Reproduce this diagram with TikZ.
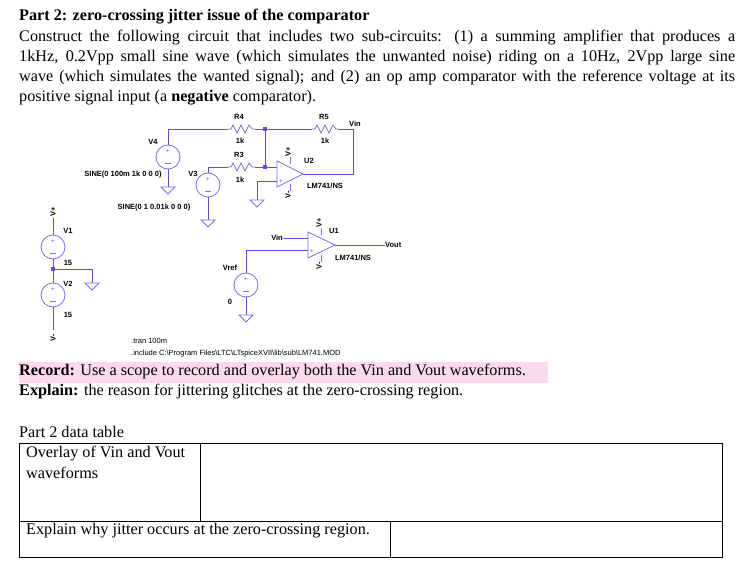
\documentclass[tikz,border=0pt]{standalone}
\usepackage{fontspec}
\setmainfont{Liberation Serif}
\newfontfamily\ckt{Liberation Sans}
\begin{document}
\begin{tikzpicture}[x=1pt,y=-1pt,
  wire/.style={draw=wirec,line width=0.9pt},
  comp/.style={draw=compc,line width=0.8pt},
  lbl/.style={font=\ckt\bfseries\fontsize{7.5}{8}\selectfont,inner sep=0pt},
  sgn/.style={font=\ckt\fontsize{7}{7}\selectfont,text=compc,inner sep=0pt},
  body/.style={font=\fontsize{16.2}{20}\selectfont,inner sep=0pt,anchor=west},
  dot/.style={fill=wirec,minimum size=3.5pt,inner sep=0pt,rectangle}]
\definecolor{wirec}{RGB}{110,70,225}
\definecolor{compc}{RGB}{120,110,230}
\definecolor{pinkh}{RGB}{252,218,236}
\useasboundingbox (0,0) rectangle (753,572);
\fill[white] (0,0) rectangle (753,572);
% text
\node[body] (t0) at (19,17) {\textbf{Part 2: zero-crossing jitter issue of the comparator}};
\node[body] (t1) at (19,38) {\makebox[716pt][s]{Construct the following circuit that includes two sub-circuits: (1) a summing amplifier that produces a}};
\node[body] (t2) at (19,58) {\makebox[716pt][s]{1kHz, 0.2Vpp small sine wave (which simulates the unwanted noise) riding on a 10Hz, 2Vpp large sine}};
\node[body] (t3) at (19,78) {\makebox[716pt][s]{wave (which simulates the wanted signal); and (2) an op amp comparator with the reference voltage at its}};
\node[body] (t4) at (19,98) {positive signal input (a \textbf{negative} comparator).};
\fill[pinkh] (19,362) rectangle (548,383);
\node[body] (rec) at (19,372) {\textbf{Record:} Use a scope to record and overlay both the Vin and Vout waveforms.};
\node[body] (exp) at (19,392) {\textbf{Explain:} the reason for jittering glitches at the zero-crossing region.};
\node[body] (p2) at (19,432) {Part 2 data table};
\draw[line width=0.8pt] (19,443) rectangle (722,557);
\draw[line width=0.8pt] (19,521) -- (722,521) (200,443) -- (200,521) (390,521) -- (390,557);
\node[body] (c1) at (26,454) {Overlay of Vin and Vout};
\node[body] (c1b) at (26,473) {waveforms};
\node[body] (c2) at (26,531) {Explain why jitter occurs at the zero-crossing region.};
% ---- summing amp
\coordinate (j1) at (265,129); \coordinate (j2) at (265,167);
\draw[wire] (168,145) -- (168,129) -- (228,129);
\draw[comp] (228,129) -- (231,129) -- (233,125) -- (237,133) -- (241,125) -- (245,133) -- (249,125) -- (252,129) -- (255,129);
\draw[wire] (255,129) -- (312,129);
\draw[comp] (312,129) -- (315,129) -- (317,125) -- (321,133) -- (325,125) -- (329,133) -- (333,125) -- (336,129) -- (338,129);
\draw[wire] (338,129) -- (353,129) -- (353,174) -- (303,174);
\draw[wire] (j1) -- (j2);
\draw[wire] (208,173) -- (208,167) -- (228,167);
\draw[comp] (228,167) -- (231,167) -- (233,163) -- (237,171) -- (241,163) -- (245,171) -- (249,163) -- (252,167) -- (255,167);
\draw[wire] (255,167) -- (277,167);
\node[dot] at (j1) {}; \node[dot] at (j2) {};
\draw[comp] (168,157) circle (12); \node[sgn] at (168,151) {+}; \draw[comp] (165,163) -- (171,163);
\draw[wire] (168,169) -- (168,187);
\draw[comp] (161,187) -- (175,187) -- (168,194) -- cycle;
\draw[comp] (208,185) circle (12); \node[sgn] at (208,179) {+}; \draw[comp] (205,191) -- (211,191);
\draw[wire] (208,197) -- (208,220);
\draw[comp] (201,220) -- (215,220) -- (208,227) -- cycle;
% U2
\draw[comp] (277,161) -- (303,174) -- (277,187) -- cycle;
\node[sgn] at (281,167) {-}; \node[sgn] at (281,181) {+};
\draw[wire] (277,181) -- (257,181) -- (257,200);
\draw[comp] (250,200) -- (264,200) -- (257,207) -- cycle;
\draw[comp] (290,164) -- (290,157) (290,184) -- (290,191);
\node[lbl,rotate=90] at (288,152) {V+}; \node[lbl,rotate=90] at (288,195) {V-};
\node[lbl] (R4) at (239,117) {R4}; \node[lbl] at (240,141) {1k};
\node[lbl] (R3) at (239,155) {R3}; \node[lbl] at (240,180) {1k};
\node[lbl] (R5) at (324,117) {R5}; \node[lbl] at (325,141) {1k};
\node[lbl] at (355,124) {Vin};
\node[lbl] at (153,142) {V4};
\node[lbl] at (123,175) {SINE(0 100m 1k 0 0 0)};
\node[lbl] at (193,174) {V3};
\node[lbl] at (154,208) {SINE(0 1 0.01k 0 0 0)};
\node[lbl] at (309,161) {U2};
\node[lbl] at (325,186) {LM741/NS};
% supplies
\draw[wire] (53,218) -- (53,235);
\node[lbl,rotate=90] at (53,212) {V+};
\draw[comp] (53,247) circle (12); \node[sgn] at (53,241) {+}; \draw[comp] (50,253) -- (56,253);
\draw[wire] (53,259) -- (53,283);
\coordinate (j3) at (53,269);
\draw[wire] (j3) -- (92,269) -- (92,283);
\draw[comp] (85,283) -- (99,283) -- (92,290) -- cycle;
\node[dot] at (j3) {};
\draw[comp] (53,295) circle (12); \node[sgn] at (53,289) {+}; \draw[comp] (50,301) -- (56,301);
\draw[wire] (53,307) -- (53,330);
\node[lbl,rotate=90] at (53,338) {V-};
\node[lbl] at (68,231) {V1}; \node[lbl] at (68,263) {15};
\node[lbl] at (68,284) {V2}; \node[lbl] at (68,315) {15};
% comparator
\draw[comp] (308,232) -- (335,245) -- (308,258) -- cycle;
\node[sgn] at (312,238) {-}; \node[sgn] at (312,251) {+};
\draw[wire] (283,238) -- (308,238);
\node[lbl,anchor=east] at (283,238) {Vin};
\draw[wire] (335,245) -- (385,245);
\node[lbl,anchor=west] at (385,245) {Vout};
\draw[wire] (308,250) -- (246,250) -- (246,273);
\draw[comp] (246,285) circle (12); \node[sgn] at (246,279) {+}; \draw[comp] (243,291) -- (249,291);
\draw[wire] (246,297) -- (246,315);
\draw[comp] (239,315) -- (253,315) -- (246,322) -- cycle;
\draw[comp] (321,235) -- (321,228) (321,255) -- (321,262);
\node[lbl,rotate=90] at (319,223) {V+}; \node[lbl,rotate=90] at (319,266) {V-};
\node[lbl] at (334,231) {U1}; \node[lbl] at (353,258) {LM741/NS};
\node[lbl] at (230,268) {Vref}; \node[lbl] at (230,302) {0};
\node[lbl,anchor=west,font=\ckt\fontsize{7.5}{8}\selectfont] at (131,341) {.tran 100m};
\node[lbl,anchor=west,font=\ckt\fontsize{7.5}{8}\selectfont] at (131,354) {.include C:\textbackslash Program Files\textbackslash LTC\textbackslash LTspiceXVII\textbackslash lib\textbackslash sub\textbackslash LM741.MOD};
\end{tikzpicture}
\end{document}
